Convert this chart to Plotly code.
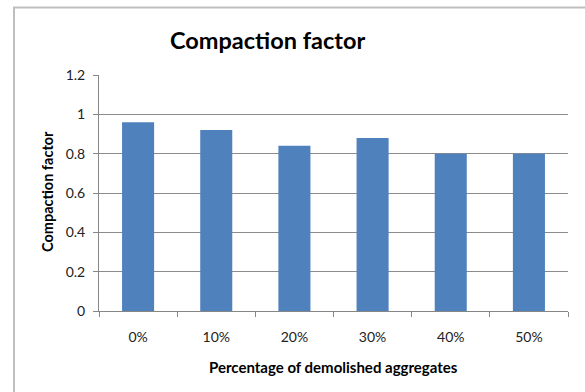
import plotly.graph_objects as go

categories = ["0%", "10%", "20%", "30%", "40%", "50%"]
compaction = [0.96, 0.92, 0.84, 0.88, 0.80, 0.80]
y_ticks = [0, 0.2, 0.4, 0.6, 0.8, 1.0, 1.2]
y_tick_text = ["0", "0.2", "0.4", "0.6", "0.8", "1", "1.2"]

FONT = "Lato, Calibri, Carlito, sans-serif"
W, H = 585, 392
L, R, T, B = 99, 17, 75, 81

fig = go.Figure(
    go.Bar(
        x=categories,
        y=compaction,
        marker=dict(color="#4F81BD", line=dict(width=0)),
        width=0.41,
    )
)

def px_x(px):
    return (px - L) / (W - L - R)

def px_y(py):
    return (H - B - py) / (H - T - B)

fig.update_layout(
    width=W,
    height=H,
    margin=dict(l=L, r=R, t=T, b=B),
    paper_bgcolor="white",
    plot_bgcolor="white",
    showlegend=False,
    font=dict(family=FONT, size=14, color="#222222"),
    annotations=[
        dict(
            text="<b>Compaction factor</b>",
            xref="paper", yref="paper",
            x=px_x(267), y=px_y(40),
            xanchor="center", yanchor="middle",
            showarrow=False,
            font=dict(family=FONT, size=23.5, color="#000000"),
        ),
        dict(
            text="<b>Percentage of demolished aggregates</b>",
            xref="paper", yref="paper",
            x=px_x(333), y=px_y(367),
            xanchor="center", yanchor="middle",
            showarrow=False,
            font=dict(family=FONT, size=15, color="#000000"),
        ),
        dict(
            text="<b>Compaction factor</b>",
            xref="paper", yref="paper",
            x=px_x(47), y=px_y(192),
            xanchor="center", yanchor="middle",
            textangle=-90,
            showarrow=False,
            font=dict(family=FONT, size=14.5, color="#000000"),
        ),
    ],
    shapes=[
        dict(
            type="rect", xref="paper", yref="paper",
            x0=px_x(14), y0=px_y(420), x1=px_x(620), y1=px_y(7.5),
            line=dict(color="#BFBFBF", width=2),
            fillcolor="rgba(0,0,0,0)",
            layer="below",
        )
    ],
)

fig.update_xaxes(
    type="category",
    showline=True, linecolor="#868686", linewidth=1,
    ticks="outside", tickson="boundaries", ticklen=5, tickcolor="#868686",
    tickfont=dict(family=FONT, size=14, color="#222222"),
    ticklabelstandoff=13,
    showgrid=False,
)
fig.update_yaxes(
    range=[0, 1.2],
    tickvals=y_ticks, ticktext=y_tick_text,
    showline=True, linecolor="#868686", linewidth=1,
    ticks="outside", ticklen=5, tickcolor="#868686",
    ticklabelstandoff=5,
    showgrid=True, gridcolor="#8C8C8C", gridwidth=1,
    zeroline=False,
    tickfont=dict(family=FONT, size=14, color="#222222"),
)

fig.write_html("out.html")
